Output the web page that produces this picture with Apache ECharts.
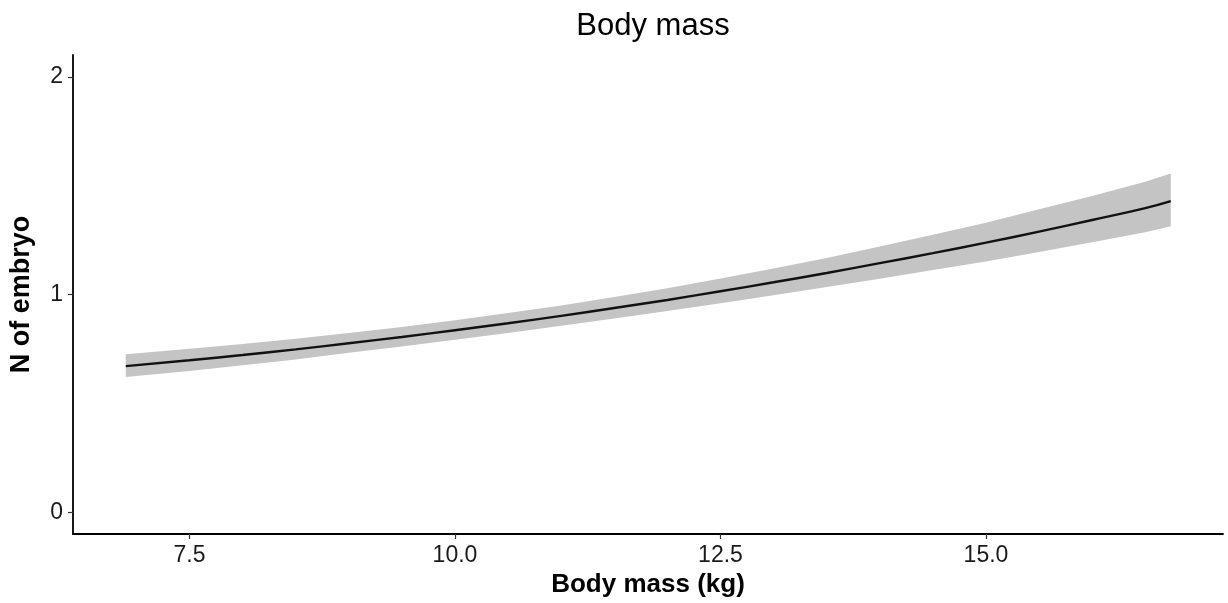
<!DOCTYPE html>
<html>
<head>
<meta charset="utf-8">
<script src="https://cdn.jsdelivr.net/npm/echarts@6/dist/echarts.min.js"></script>
<style>
html,body{margin:0;padding:0;background:#fff;}
#chart{width:1228px;height:603px;}
</style>
</head>
<body>
<div id="chart"></div>
<script>
const bodyMass = [6.9, 7.5, 8.0, 8.5, 9.0, 9.5, 10.0, 10.5, 11.0, 11.5, 12.0, 12.5, 13.0, 13.5, 14.0, 14.5, 15.0, 15.5, 16.0, 16.5, 16.74];
const fitted   = [0.671, 0.698, 0.722, 0.748, 0.776, 0.805, 0.836, 0.868, 0.902, 0.938, 0.975, 1.015, 1.056, 1.099, 1.144, 1.190, 1.238, 1.289, 1.342, 1.397, 1.429];
const upper    = [0.726, 0.751, 0.773, 0.797, 0.823, 0.851, 0.882, 0.915, 0.950, 0.989, 1.029, 1.073, 1.119, 1.168, 1.221, 1.274, 1.330, 1.391, 1.452, 1.518, 1.556];
const lower    = [0.621, 0.649, 0.675, 0.702, 0.732, 0.761, 0.792, 0.823, 0.856, 0.890, 0.924, 0.960, 0.996, 1.034, 1.072, 1.112, 1.152, 1.195, 1.240, 1.286, 1.313];
const xTicks = [7.5, 10.0, 12.5, 15.0];
const yTicks = [0, 1, 2];

const chart = echarts.init(document.getElementById('chart'));
const font = '"Liberation Sans", Arial, sans-serif';
const bandData = bodyMass.map((x, i) => [x, lower[i], upper[i]]);
chart.setOption({
  animation: false,
  backgroundColor: '#ffffff',
  title: {
    text: 'Body mass',
    left: 648, top: 6, textAlign: 'center',
    textStyle: {fontFamily: font, fontSize: 31, fontWeight: 'normal', color: '#000'}
  },
  grid: {left: 73, right: 5, top: 55, bottom: 69, containLabel: false},
  xAxis: {
    type: 'value', min: 6.403, max: 17.232,
    name: 'Body mass (kg)', nameLocation: 'middle', nameGap: 38,
    nameTextStyle: {fontFamily: font, fontSize: 26, fontWeight: 'bold', color: '#000'},
    axisLine: {show: true, onZero: false, lineStyle: {color: '#000', width: 1.8}},
    axisTick: {show: true, customValues: xTicks, length: 5, lineStyle: {color: '#333', width: 1.2}},
    axisLabel: {customValues: xTicks, fontFamily: font, fontSize: 23, color: '#1a1a1a', margin: 10,
      formatter: v => v.toFixed(1)},
    splitLine: {show: false}
  },
  yAxis: {
    type: 'value', min: -0.1, max: 2.1,
    name: 'N of embryo', nameLocation: 'middle', nameGap: 38, nameRotate: 90,
    nameTextStyle: {fontFamily: font, fontSize: 27, fontWeight: 'bold', color: '#000'},
    axisLine: {show: true, onZero: false, lineStyle: {color: '#000', width: 1.8}},
    axisTick: {show: true, customValues: yTicks, length: 5, lineStyle: {color: '#333', width: 1.2}},
    axisLabel: {customValues: yTicks, fontFamily: font, fontSize: 23, color: '#1a1a1a', margin: 10},
    splitLine: {show: false}
  },
  series: [
    {
      type: 'custom', silent: true,
      data: bandData,
      encode: {x: 0, y: [1, 2]},
      renderItem: function (params, api) {
        if (params.dataIndex !== 0) return null;
        const pts = [];
        for (let i = 0; i < bandData.length; i++) pts.push(api.coord([bandData[i][0], bandData[i][2]]));
        for (let i = bandData.length - 1; i >= 0; i--) pts.push(api.coord([bandData[i][0], bandData[i][1]]));
        return {type: 'polygon', shape: {points: pts, smooth: 0}, style: {fill: '#c4c4c4', stroke: null}};
      },
      z: 1
    },
    {
      type: 'line', symbol: 'none', smooth: true,
      data: bodyMass.map((x, i) => [x, fitted[i]]),
      lineStyle: {color: '#111', width: 2.4},
      z: 3
    }
  ]
});
</script>
</body>
</html>
